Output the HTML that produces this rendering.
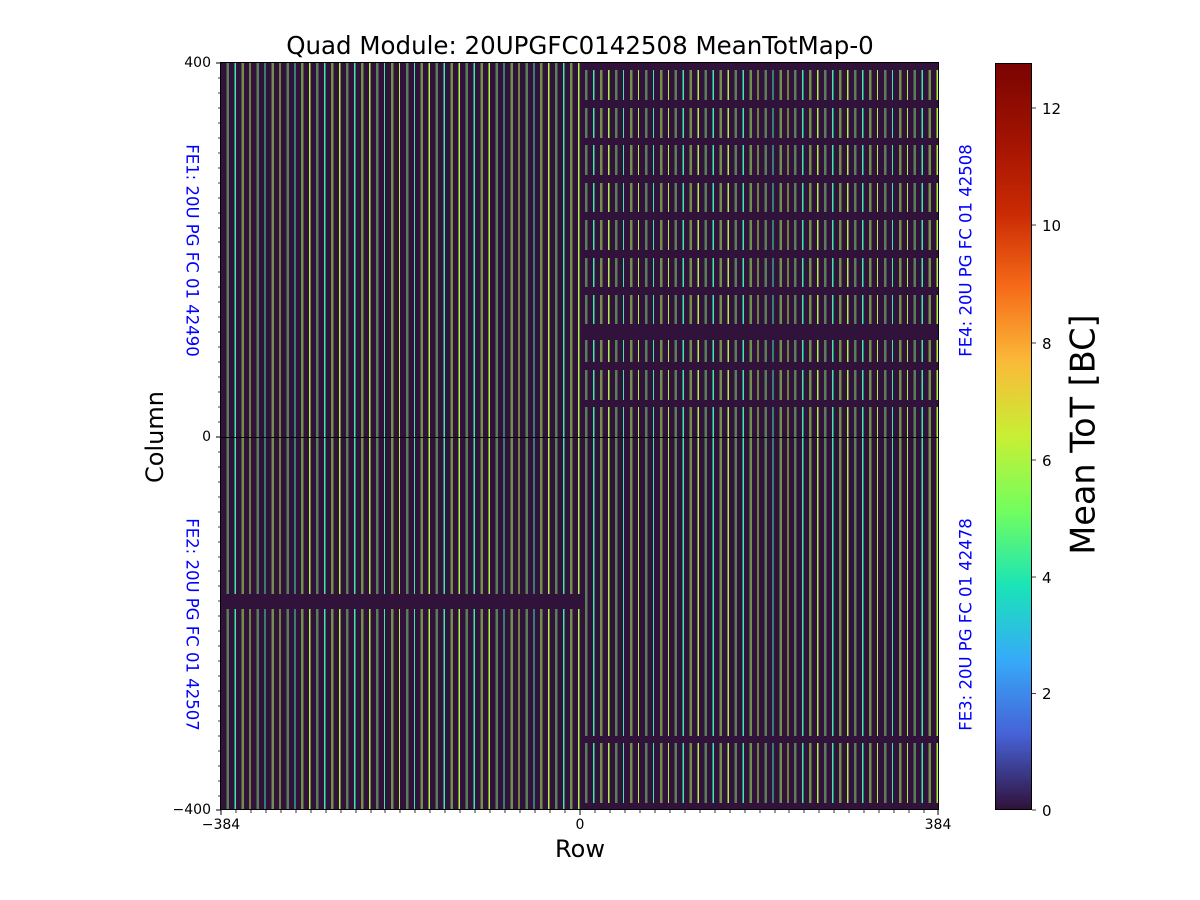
<!DOCTYPE html>
<html><head><meta charset="utf-8"><style>
body{margin:0;width:1200px;height:900px;background:#fff;position:relative;overflow:hidden;font-family:"DejaVu Sans","Liberation Sans",sans-serif;}
.a{position:absolute}
#plot{left:221px;top:63px;width:717px;height:747px;background-color:#30123b;
background-image:repeating-linear-gradient(to right,#5a7e58 0px,#5a7e58 2.5px,transparent 2.5px,transparent 8px,#3eeaa8 8px,#3eeaa8 9.3px,transparent 9.3px,transparent 14.94px,#72904c 14.94px,#72904c 17.44px,transparent 17.44px,transparent 22.94px,#acf248 22.94px,#acf248 24.24px,transparent 24.24px,transparent 29.88px);
background-position:5.5px 0;}
.g{position:absolute;background:#30123b}
.t{position:absolute;font-size:14px;color:#000}
.blue{position:absolute;color:#0000ff;font-size:16.5px;white-space:nowrap}
</style></head><body>
<div class="a" style="left:0;top:31px;width:1160px;text-align:center;font-size:24.5px;white-space:nowrap">Quad Module: 20UPGFC0142508 MeanTotMap-0</div>
<div class="a" id="plot"></div>
<div class="g" style="left:580px;top:63px;width:358px;height:7px"></div>
<div class="g" style="left:580px;top:100px;width:358px;height:8px"></div>
<div class="g" style="left:580px;top:138px;width:358px;height:7px"></div>
<div class="g" style="left:580px;top:175px;width:358px;height:8px"></div>
<div class="g" style="left:580px;top:212px;width:358px;height:8px"></div>
<div class="g" style="left:580px;top:250px;width:358px;height:8px"></div>
<div class="g" style="left:580px;top:287px;width:358px;height:8px"></div>
<div class="g" style="left:580px;top:324px;width:358px;height:16px"></div>
<div class="g" style="left:580px;top:362px;width:358px;height:8px"></div>
<div class="g" style="left:580px;top:400px;width:358px;height:7px"></div>
<div class="g" style="left:580px;top:736px;width:358px;height:7px"></div>
<div class="g" style="left:580px;top:803px;width:358px;height:7px"></div>
<div class="g" style="left:221px;top:594px;width:359px;height:15px"></div>
<div class="a" style="left:221px;top:436.5px;width:717px;height:1px;background:#000"></div>
<div class="a" style="left:220px;top:62px;width:717px;height:746px;border:1px solid #000"></div>
<svg class="a" style="left:0;top:0" width="1200" height="900">
<g stroke="#000" stroke-width="1">
<line x1="221" y1="63" x2="216" y2="63"/><line x1="221" y1="437" x2="216" y2="437"/><line x1="221" y1="810" x2="216" y2="810"/>
<line x1="221" y1="810" x2="221" y2="815"/><line x1="580" y1="810" x2="580" y2="815"/><line x1="938" y1="810" x2="938" y2="815"/>
</g>
<g stroke="#000" stroke-width="0.8">
<path d="M221 78h-3M221 93h-3M221 108h-3M221 123h-3M221 138h-3M221 153h-3M221 168h-3M221 183h-3M221 198h-3M221 213h-3M221 228h-3M221 242h-3M221 257h-3M221 272h-3M221 287h-3M221 302h-3M221 317h-3M221 332h-3M221 347h-3M221 362h-3M221 377h-3M221 392h-3M221 407h-3M221 422h-3M221 452h-3M221 467h-3M221 482h-3M221 497h-3M221 512h-3M221 527h-3M221 542h-3M221 557h-3M221 571h-3M221 586h-3M221 601h-3M221 616h-3M221 631h-3M221 646h-3M221 661h-3M221 676h-3M221 691h-3M221 706h-3M221 721h-3M221 736h-3M221 751h-3M221 766h-3M221 781h-3M221 796h-3"/>
<path d="M236 810v3M251 810v3M266 810v3M281 810v3M296 810v3M311 810v3M326 810v3M341 810v3M356 810v3M371 810v3M385 810v3M400 810v3M415 810v3M430 810v3M445 810v3M460 810v3M475 810v3M490 810v3M505 810v3M520 810v3M535 810v3M550 810v3M565 810v3M595 810v3M610 810v3M625 810v3M640 810v3M655 810v3M670 810v3M685 810v3M700 810v3M715 810v3M730 810v3M745 810v3M760 810v3M775 810v3M789 810v3M804 810v3M819 810v3M834 810v3M849 810v3M864 810v3M879 810v3M894 810v3M909 810v3M924 810v3"/>
<path d="M1032 810h4M1032 693.5h4M1032 577h4M1032 460h4M1032 343h4M1032 225h4M1032 108h4"/>
</g></svg>
<div class="t" style="left:160px;top:55px;width:51px;text-align:right">400</div>
<div class="t" style="left:160px;top:429px;width:51px;text-align:right">0</div>
<div class="t" style="left:150px;top:802px;width:61px;text-align:right">−400</div>
<div class="t" style="left:186px;top:817px;width:70px;text-align:center">−384</div>
<div class="t" style="left:550px;top:817px;width:60px;text-align:center">0</div>
<div class="t" style="left:908px;top:817px;width:60px;text-align:center">384</div>
<div class="a" style="left:520px;top:835px;width:120px;text-align:center;font-size:24px">Row</div>
<div class="a" style="left:85px;top:423px;width:140px;text-align:center;font-size:24px;transform:rotate(-90deg)">Column</div>
<div class="blue" style="left:72px;top:241px;width:240px;text-align:center;transform:rotate(90deg)">FE1: 20U PG FC 01 42490</div>
<div class="blue" style="left:72px;top:615px;width:240px;text-align:center;transform:rotate(90deg)">FE2: 20U PG FC 01 42507</div>
<div class="blue" style="left:846px;top:241px;width:240px;text-align:center;transform:rotate(-90deg)">FE4: 20U PG FC 01 42508</div>
<div class="blue" style="left:846px;top:615px;width:240px;text-align:center;transform:rotate(-90deg)">FE3: 20U PG FC 01 42478</div>
<div class="a" style="left:995px;top:63px;width:37px;height:747px;box-sizing:border-box;border:1px solid #000;background:linear-gradient(to top,#30123b 0%,#4662d7 10%,#36aaf9 20%,#1ae4b6 30%,#72fe5e 40%,#c8ef34 50%,#faba39 60%,#f66b19 70%,#ca2a04 80%,#a11201 90%,#7a0403 100%)"></div>
<div class="t" style="left:1042px;top:802px;font-size:15px">0</div>
<div class="t" style="left:1042px;top:685px;font-size:15px">2</div>
<div class="t" style="left:1042px;top:569px;font-size:15px">4</div>
<div class="t" style="left:1042px;top:452px;font-size:15px">6</div>
<div class="t" style="left:1042px;top:335px;font-size:15px">8</div>
<div class="t" style="left:1042px;top:217px;font-size:15px">10</div>
<div class="t" style="left:1042px;top:100px;font-size:15px">12</div>
<div class="a" style="left:933px;top:415px;width:300px;text-align:center;font-size:33.5px;transform:rotate(-90deg);white-space:nowrap">Mean ToT [BC]</div>
</body></html>
